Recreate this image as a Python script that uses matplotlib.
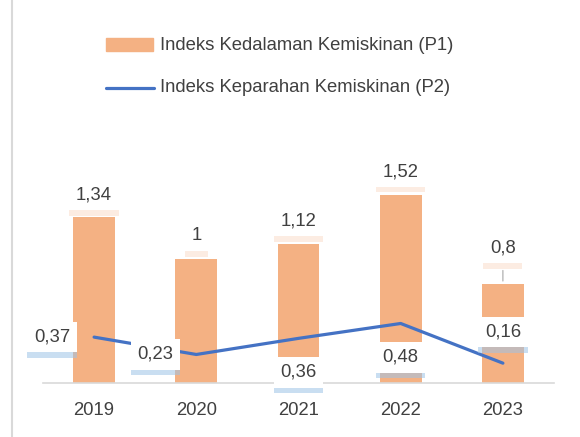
import matplotlib
matplotlib.use("Agg")
import matplotlib.pyplot as plt
from matplotlib import patheffects as pe
from matplotlib.lines import Line2D
from matplotlib.patches import Rectangle

years = ["2019", "2020", "2021", "2022", "2023"]
p1 = [1.34, 1.00, 1.12, 1.52, 0.80]
p2 = [0.37, 0.23, 0.36, 0.48, 0.16]
p1_labels = ["1,34", "1", "1,12", "1,52", "0,8"]
p2_labels = ["0,37", "0,23", "0,36", "0,48", "0,16"]

FONT = ["Liberation Sans Narrow", "Liberation Sans", "DejaVu Sans"]
plt.rcParams["font.family"] = FONT
TXT = "#404040"
ORANGE = "#F4B183"
BLUE = "#4472C4"
FS = 13.3

fig = plt.figure(figsize=(5.8, 4.37), dpi=100)
ax = fig.add_axes([43/580, (437-383)/437, (554-43)/580, 248/437])
x = list(range(len(years)))
ax.bar(x, p1, width=0.41, color=ORANGE, zorder=2)
ax.plot(x, p2, color=BLUE, lw=2.3, zorder=3, solid_capstyle="round")
ax.set_xlim(-0.5, 4.5)
ax.set_ylim(0, 2.0)
ax.set_yticks([])
for s in ["top", "right", "left"]:
    ax.spines[s].set_visible(False)
ax.spines["bottom"].set_color("#D9D9D9")
ax.spines["bottom"].set_linewidth(1.2)
ax.set_xticks(x)
ax.set_xticklabels(years, fontsize=FS, color=TXT)
ax.tick_params(axis="x", length=0, pad=14)

def label(xi, yi, txt, dx, dy, shadow, alpha):
    t = ax.annotate(txt, (xi, yi), xytext=(dx, dy), textcoords="offset pixels",
                    ha="center", va="center", fontsize=FS, color=TXT, zorder=6,
                    bbox=dict(boxstyle="square,pad=0.36", fc="white", ec="none"))
    t.get_bbox_patch().set_path_effects([
        pe.withSimplePatchShadow(offset=(0, -4), shadow_rgbFace=shadow, alpha=alpha),
        pe.Normal()])
    return t

p1_off = [(0, 22), (0, 23), (0, 23), (0, 23), (0, 36)]
for i in x:
    dx, dy = p1_off[i]
    label(i, p1[i], p1_labels[i], dx, dy, "#F8CBAD", 0.35)
# leader line for 0,8
ax.annotate("", (4, p1[4]), xytext=(4, p1[4] + 0.13),
            arrowprops=dict(arrowstyle="-", color="#A6A6A6", lw=0.8), zorder=1)

p2_off = [(-42, 0), (-41, 0), (0, -34), (0, -34), (0, 31)]
for i in x:
    dx, dy = p2_off[i]
    label(i, p2[i], p2_labels[i], dx, dy, "#9DC3E6", 0.55)

# legend (manual)
fig.patches.append(Rectangle((106/580, 1-51/437), 47/580, 13/437,
                             transform=fig.transFigure, color=ORANGE))
fig.lines.append(Line2D([106/580, 154/580], [1-88/437, 1-88/437],
                        transform=fig.transFigure, color=BLUE, lw=2.3,
                        solid_capstyle="round"))
fig.text(160/580, 1-45/437, "Indeks Kedalaman Kemiskinan (P1)", fontsize=FS,
         color=TXT, va="center", ha="left")
fig.text(160/580, 1-88/437, "Indeks Keparahan Kemiskinan (P2)", fontsize=FS,
         color=TXT, va="center", ha="left")

# left border of chart area
fig.lines.append(Line2D([12/580, 12/580], [0, 1], transform=fig.transFigure,
                        color="#D9D9D9", lw=1.5))

fig.savefig("out.png", dpi=100, facecolor="white")
